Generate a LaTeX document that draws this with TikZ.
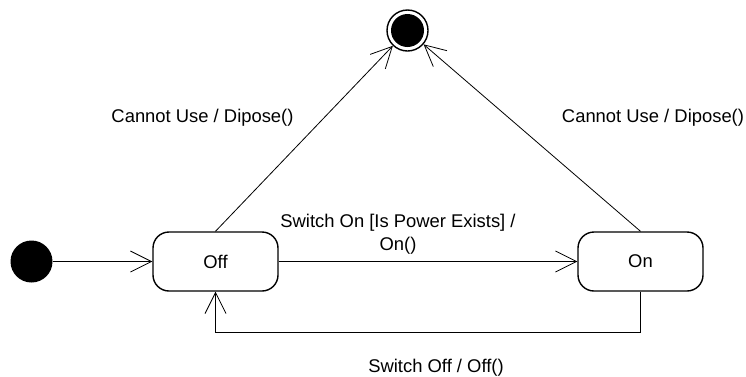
\documentclass[tikz,border=0pt]{standalone}
\usepackage{fontspec}
\setmainfont{Liberation Sans}
\usetikzlibrary{arrows.meta}
\begin{document}
\begin{tikzpicture}[x=1pt,y=-1pt,
  statebox/.style={draw, line width=1.4pt, rounded corners=16pt, minimum width=125pt, minimum height=59pt, inner sep=0pt, font=\fontsize{18.4}{23}\selectfont},
  initstate/.style={circle, fill=black, minimum size=42pt, inner sep=0pt},
  finalstate/.style={circle, draw, line width=1.4pt, minimum size=41pt, inner sep=0pt},
  trans/.style={line width=0.8pt, -{Straight Barb[length=21pt,width=21pt,line width=0.8pt]}},
  lbl/.style={font=\fontsize{18.4}{23}\selectfont, inner sep=0pt, anchor=base}]
\useasboundingbox (0,0) rectangle (746,376);
\node[initstate] (init) at (31.5,261.5) {};
\node[statebox] (off) at (215.5,261.5) {Off};
\node[statebox] (on) at (640.5,261.5) {On};
\node[finalstate] (final) at (407.5,30.5) {};
\fill (final.center) circle (16.5pt);
\coordinate (br) at (640.5,332);
\coordinate (bl) at (215.5,332);
\draw[trans] (init) -- (off);
\draw[trans] (off) -- (on);
\draw[trans] (off.north) -- (final);
\draw[trans] (on.north) -- (final);
\draw[trans] (on.south) -- (br) -- (bl) -- (off.south);
\node[lbl] (l1) at (202.5,122) {Cannot Use / Dipose()};
\node[lbl] (l2) at (653,122) {Cannot Use / Dipose()};
\node[lbl] (l3a) at (398,227) {Switch On [Is Power Exists] /};
\node[lbl] (l3b) at (398,250) {On()};
\node[lbl] (l4) at (436,372) {Switch Off / Off()};
\end{tikzpicture}
\end{document}
